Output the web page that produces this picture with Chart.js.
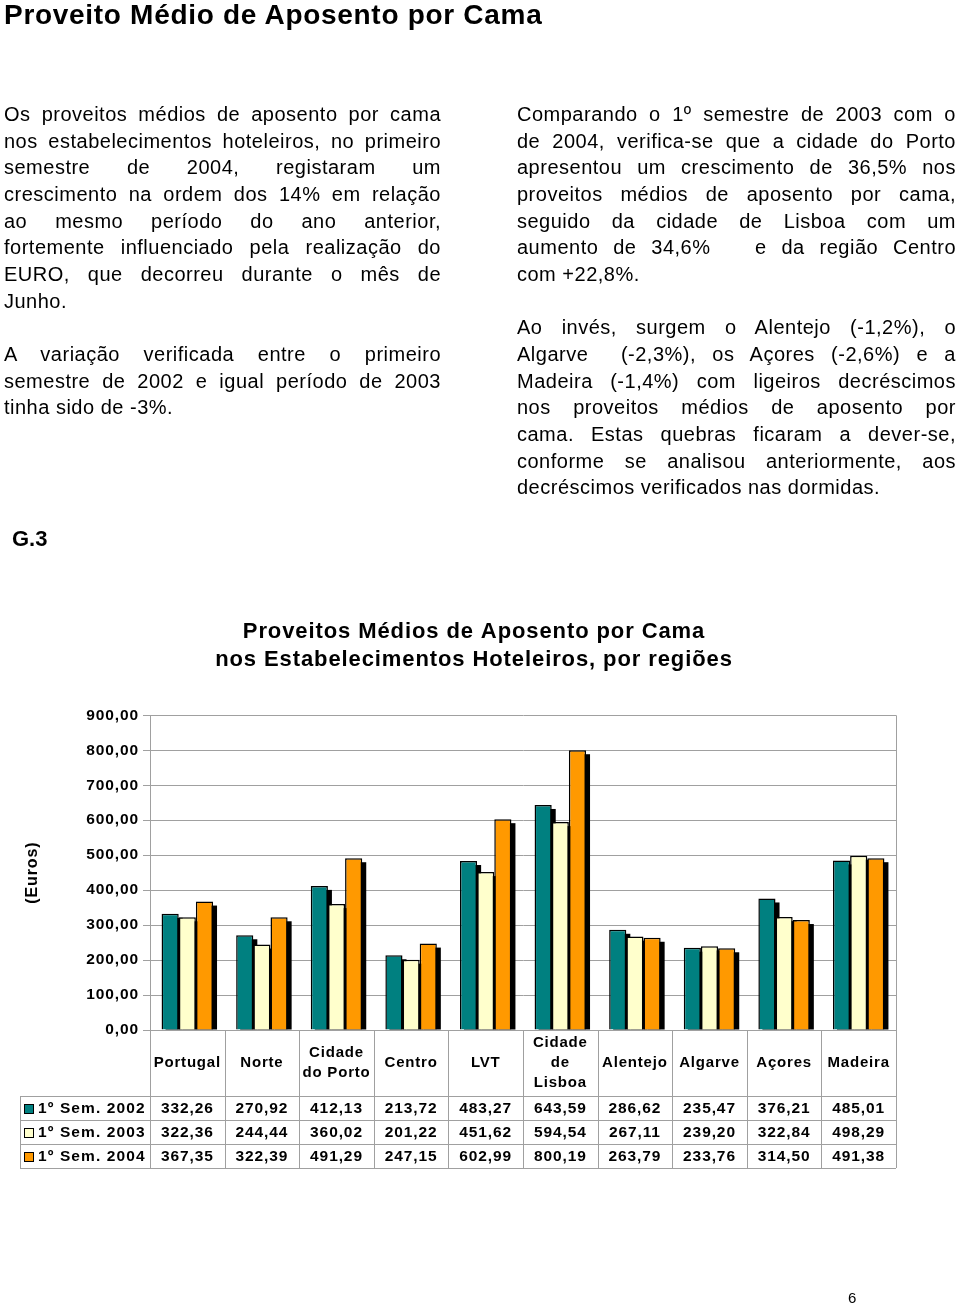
<!DOCTYPE html>
<html>
<head>
<meta charset="utf-8">
<script src="https://cdn.jsdelivr.net/npm/chart.js@4"></script>
<style>
  body { margin: 0; background: #fff; font-family: "Liberation Sans", Arial, sans-serif; color: #000; }
  #page { position: relative; width: 960px; height: 1305px; overflow: hidden; }
  canvas { position: absolute; left: 0; top: 0; }
  .abs { position: absolute; }
  h1 { position: absolute; left: 4px; top: 0; margin: 0; font-size: 28px; font-weight: bold; letter-spacing: 0.7px; line-height: 30px; }
  .col { position: absolute; top: 101px; font-size: 20px; line-height: 26.67px; letter-spacing: 0.5px; }
  .col div { text-align: justify; text-align-last: justify; white-space: nowrap; }
  .col div.e { text-align-last: left; }
  .col .gap { height: 26.67px; }
  #g3 { left: 12px; top: 526px; font-size: 22px; font-weight: bold; }
  #pg { left: 848px; top: 1289px; font-size: 15px; }
</style>
</head>
<body>
<div id="page">
  <canvas id="chart" width="960" height="1305"></canvas>
  <h1>Proveito Médio de Aposento por Cama</h1>
  <div class="col" style="left:4px;width:437px;">
    <div>Os proveitos médios de aposento por cama</div>
    <div>nos estabelecimentos hoteleiros, no primeiro</div>
    <div>semestre de 2004, registaram um</div>
    <div>crescimento na ordem dos 14% em relação</div>
    <div>ao mesmo período do ano anterior,</div>
    <div>fortemente influenciado pela realização do</div>
    <div>EURO, que decorreu durante o mês de</div>
    <div class="e">Junho.</div>
    <div class="gap"></div>
    <div>A variação verificada entre o primeiro</div>
    <div>semestre de 2002 e igual período de 2003</div>
    <div class="e">tinha sido de -3%.</div>
  </div>
  <div class="col" style="left:517px;width:439px;">
    <div>Comparando o 1º semestre de 2003 com o</div>
    <div>de 2004, verifica-se que a cidade do Porto</div>
    <div>apresentou um crescimento de 36,5% nos</div>
    <div>proveitos médios de aposento por cama,</div>
    <div>seguido da cidade de Lisboa com um</div>
    <div>aumento de 34,6% &nbsp; e da região Centro</div>
    <div class="e">com +22,8%.</div>
    <div class="gap"></div>
    <div>Ao invés, surgem o Alentejo (-1,2%), o</div>
    <div>Algarve &nbsp;(-2,3%), os Açores (-2,6%) e a</div>
    <div>Madeira (-1,4%) com ligeiros decréscimos</div>
    <div>nos proveitos médios de aposento por</div>
    <div>cama. Estas quebras ficaram a dever-se,</div>
    <div>conforme se analisou anteriormente, aos</div>
    <div class="e">decréscimos verificados nas dormidas.</div>
  </div>
  <div id="g3" class="abs">G.3</div>
  <div id="pg" class="abs">6</div>
</div>
<script>
const regions = ['Portugal', 'Norte', 'Cidade do Porto', 'Centro', 'LVT', 'Cidade de Lisboa', 'Alentejo', 'Algarve', 'Açores', 'Madeira'];
const regionLines = [['Portugal'], ['Norte'], ['Cidade', 'do Porto'], ['Centro'], ['LVT'], ['Cidade', 'de', 'Lisboa'], ['Alentejo'], ['Algarve'], ['Açores'], ['Madeira']];
const seriesNames = ['1º Sem. 2002', '1º Sem. 2003', '1º Sem. 2004'];
const sem2002 = [332.26, 270.92, 412.13, 213.72, 483.27, 643.59, 286.62, 235.47, 376.21, 485.01];
const sem2003 = [322.36, 244.44, 360.02, 201.22, 451.62, 594.54, 267.11, 239.20, 322.84, 498.29];
const sem2004 = [367.35, 322.39, 491.29, 247.15, 602.99, 800.19, 263.79, 233.76, 314.50, 491.38];
const seriesColors = ['#008080', '#FFFFCC', '#FF9900'];

const FONT = '"Liberation Sans", Arial, sans-serif';
const GRID = '#a0a0a0';
const fmt = v => v.toFixed(2).replace('.', ',');

// black drop shadow behind every bar
const barShadow = {
  id: 'barShadow',
  beforeDatasetsDraw(chart) {
    const ctx = chart.ctx;
    ctx.save();
    ctx.fillStyle = '#000';
    chart.data.datasets.forEach((ds, i) => {
      chart.getDatasetMeta(i).data.forEach(bar => {
        const p = bar.getProps(['x', 'y', 'base', 'width'], true);
        ctx.fillRect(p.x - p.width / 2 + 4, p.y + 4, p.width, p.base - p.y - 4);
      });
    });
    ctx.restore();
  }
};

// wider text spacing like the original document, title centred on the page
const spacing = {
  id: 'spacing',
  afterLayout(chart) {
    if (chart.titleBlock) { chart.titleBlock.left = 0; chart.titleBlock.right = 948; }
  },
  beforeDraw(chart) { chart.ctx.letterSpacing = '0.9px'; }
};

// plot frame and the data table under the axis
const dataTable = {
  id: 'dataTable',
  afterDraw(chart) {
    const ctx = chart.ctx;
    const area = chart.chartArea;
    const xs = chart.scales.x;
    const n = regions.length;
    const cw = (xs.right - xs.left) / n;
    const top = area.bottom;
    const headBottom = top + 66;
    const rowH = 24;
    const tableLeft = 20;
    const tableBottom = headBottom + rowH * 3;

    ctx.save();
    ctx.strokeStyle = GRID;
    ctx.lineWidth = 1;
    ctx.beginPath();
    // right frame of the plot
    ctx.moveTo(Math.round(area.right) + 0.5, area.top);
    ctx.lineTo(Math.round(area.right) + 0.5, area.bottom);
    // column boundaries
    for (let i = 0; i <= n; i++) {
      const x = Math.round(xs.left + i * cw) + 0.5;
      ctx.moveTo(x, top);
      ctx.lineTo(x, tableBottom);
    }
    ctx.moveTo(tableLeft + 0.5, headBottom);
    ctx.lineTo(tableLeft + 0.5, tableBottom);
    for (let r = 0; r <= 3; r++) {
      const y = Math.round(headBottom + r * rowH) + 0.5;
      ctx.moveTo(tableLeft, y);
      ctx.lineTo(xs.right, y);
    }
    ctx.stroke();

    ctx.fillStyle = '#000';
    ctx.font = 'bold 15px ' + FONT;
    ctx.textAlign = 'center';
    ctx.textBaseline = 'middle';
    ctx.letterSpacing = '0.8px';
    regionLines.forEach((lines, i) => {
      const cx = xs.getPixelForValue(i);
      const mid = (top + headBottom) / 2;
      lines.forEach((t, k) => {
        ctx.fillText(t, cx, mid + (k - (lines.length - 1) / 2) * 20);
      });
    });

    ctx.font = 'bold 15.5px ' + FONT;
    const rows = [sem2002, sem2003, sem2004];
    rows.forEach((vals, r) => {
      const cy = headBottom + r * rowH + rowH / 2 + 1;
      ctx.letterSpacing = '0.9px';
      vals.forEach((v, i) => {
        ctx.fillText(fmt(v), xs.getPixelForValue(i), cy);
      });
      // legend key
      ctx.fillStyle = seriesColors[r];
      ctx.fillRect(24, cy - 5, 10, 10);
      ctx.strokeStyle = '#000';
      ctx.strokeRect(24.5, cy - 4.5, 9, 9);
      ctx.fillStyle = '#000';
      ctx.textAlign = 'left';
      ctx.letterSpacing = '1.1px';
      ctx.fillText(seriesNames[r], 38, cy);
      ctx.textAlign = 'center';
    });
    ctx.restore();
  }
};

const datasets = [sem2002, sem2003, sem2004].map((vals, i) => ({
  label: seriesNames[i],
  data: vals,
  backgroundColor: seriesColors[i],
  borderColor: '#000',
  borderWidth: 1.5,
  borderSkipped: 'bottom',
  categoryPercentage: 0.69,
  barPercentage: 1.0,
}));

const config = {
  type: 'bar',
  data: { labels: regions, datasets: datasets },
  options: {
    responsive: false,
    animation: false,
    devicePixelRatio: 1,
    layout: { padding: { top: 618, left: 0, right: 64, bottom: 275 } },
    plugins: {
      legend: { display: false },
      tooltip: { enabled: false },
      title: {
        display: true,
        text: ['Proveitos Médios de Aposento por Cama', 'nos Estabelecimentos Hoteleiros, por regiões'],
        color: '#000',
        font: { family: FONT, size: 22, weight: 'bold', lineHeight: 1.28 },
        padding: { top: 0, bottom: 41 },
      },
    },
    scales: {
      x: { display: false },
      y: {
        min: 0,
        max: 900,
        ticks: {
          stepSize: 100,
          color: '#000',
          padding: 4,
          font: { family: FONT, size: 15.5, weight: 'bold' },
          callback: v => fmt(v),
        },
        grid: { color: GRID, tickLength: 7 },
        border: { display: true, color: GRID },
        title: {
          display: true,
          text: '(Euros)',
          color: '#000',
          font: { family: FONT, size: 16, weight: 'bold' },
          padding: { top: 23, bottom: 0 },
        },
        afterFit(scale) { scale.width = 150; },
      },
    },
  },
  plugins: [spacing, barShadow, dataTable],
};

new Chart(document.getElementById('chart'), config);
</script>
</body>
</html>
